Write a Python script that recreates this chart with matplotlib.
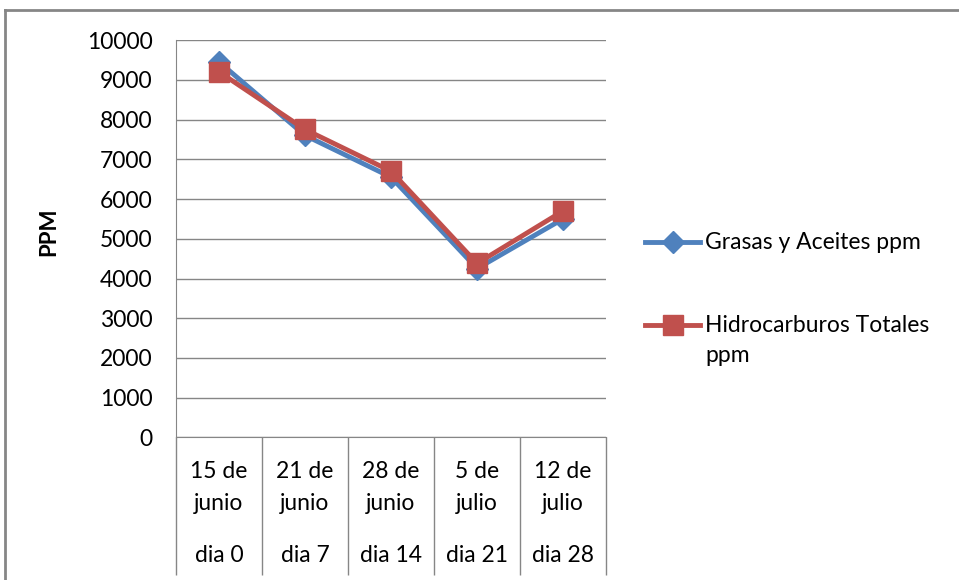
import matplotlib
matplotlib.use("Agg")
import matplotlib.pyplot as plt
from matplotlib.lines import Line2D

plt.rcParams['font.family'] = ['Lato', 'DejaVu Sans']

# Datos de las muestras
fechas = ["15 de", "21 de", "28 de", "5 de", "12 de"]
meses = ["junio", "junio", "junio", "julio", "julio"]
dias = ["dia 0", "dia 7", "dia 14", "dia 21", "dia 28"]
grasas_aceites = [9450, 7600, 6550, 4250, 5500]
hidrocarburos = [9200, 7750, 6700, 4380, 5700]

AZUL = '#4F81BD'
ROJO = '#C0504D'
GRIS = '#868686'
FS = 16.5

fig = plt.figure(figsize=(9.59, 5.8), dpi=100)
ax = fig.add_axes([0.1835, 0.2457, 0.4485, 0.6853])

x = list(range(len(fechas)))
ax.plot(x, grasas_aceites, color=AZUL, linewidth=3.5, marker='D',
        markersize=11, label="Grasas y Aceites ppm")
ax.plot(x, hidrocarburos, color=ROJO, linewidth=3.5, marker='s',
        markersize=14.5, label="Hidrocarburos Totales ppm")

ax.set_xlim(-0.5, len(fechas) - 0.5)
ax.set_ylim(0, 10000)
ax.set_yticks(range(0, 10001, 1000))
ax.yaxis.grid(True, color=GRIS, linewidth=1)
ax.set_axisbelow(True)
ax.tick_params(axis='y', length=0, pad=17, labelsize=FS)

# Separadores de categorias en el eje X
ax.set_xticks([])
ax.set_xticks([i - 0.5 for i in range(len(fechas) + 1)], minor=True)
ax.tick_params(axis='x', which='minor', length=99, width=1, color=GRIS,
               direction='out', labelbottom=False)

for s in ['top', 'right']:
    ax.spines[s].set_visible(False)
for s in ['left', 'bottom']:
    ax.spines[s].set_color(GRIS)

# Etiquetas de dos niveles (fecha / dia)
for i in x:
    for txt, off in [(fechas[i], -24.8), (meses[i], -47.2), (dias[i], -85.3)]:
        ax.annotate(txt, xy=(i, 0), xycoords=('data', 'axes fraction'),
                    xytext=(0, off), textcoords='offset points',
                    ha='center', va='center', fontsize=FS)

ax.set_ylabel("PPM", fontsize=16, fontweight='bold')
ax.yaxis.set_label_coords(-0.271, 0.518)

# Leyenda manual a la derecha
lx0, lx1 = 645 / 959, 700 / 959
ly = [1 - 242 / 580, 1 - 325 / 580]
series = [(AZUL, 'D', 11, "Grasas y Aceites ppm"),
          (ROJO, 's', 14.5, "Hidrocarburos Totales")]
for (c, m, ms, txt), y in zip(series, ly):
    fig.add_artist(Line2D([lx0, lx1], [y, y], color=c, linewidth=3.5))
    fig.add_artist(Line2D([(lx0 + lx1) / 2], [y], color=c, marker=m,
                          markersize=ms))
    fig.text(705 / 959, y, txt, fontsize=FS, va='center', ha='left')
fig.text(705 / 959, 1 - 355 / 580, "ppm", fontsize=FS, va='center', ha='left')

# Marco del grafico
fig.add_artist(Line2D([5 / 959, 1], [1 - 10 / 580, 1 - 10 / 580],
                      color=GRIS, linewidth=2))
fig.add_artist(Line2D([5 / 959, 5 / 959], [1 - 10 / 580, 0],
                      color=GRIS, linewidth=2))

fig.savefig("out.png", dpi=100)
